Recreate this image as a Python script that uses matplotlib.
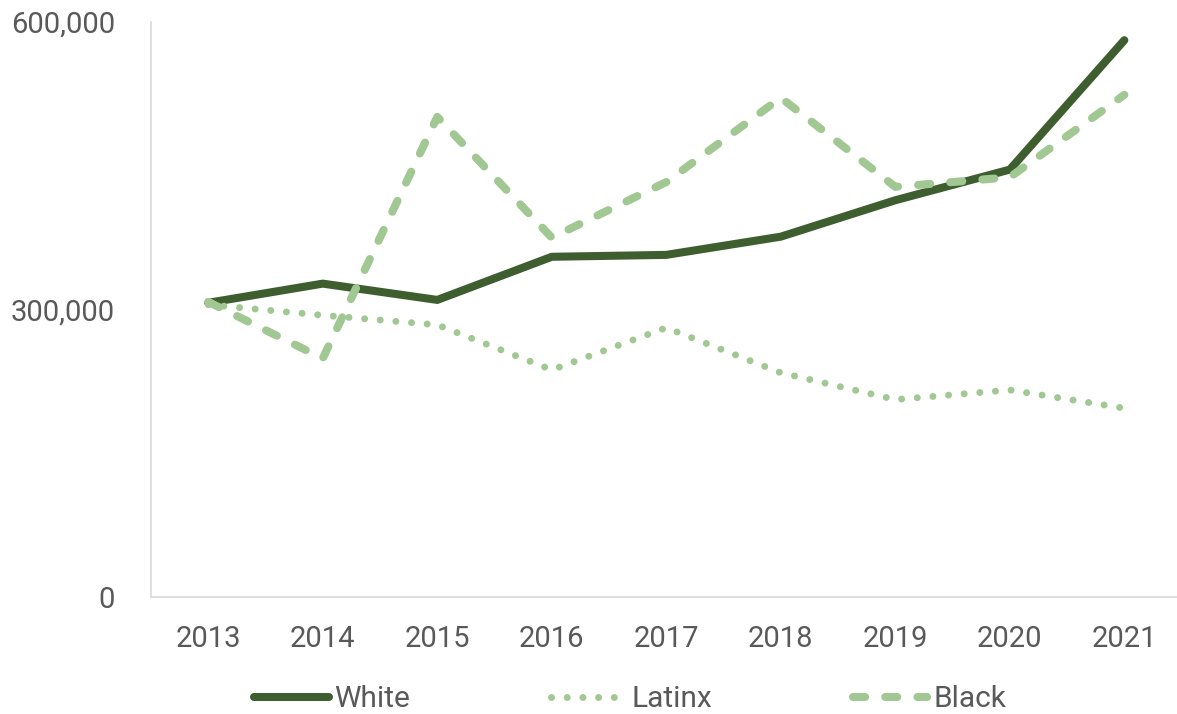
import matplotlib
matplotlib.use('Agg')
import matplotlib.pyplot as plt
from matplotlib.ticker import FuncFormatter

# values
years = ['2013', '2014', '2015', '2016', '2017', '2018', '2019', '2020', '2021']
white = [307000, 327000, 310000, 355000, 357000, 376000, 414000, 446000, 581000]
latinx = [305000, 294000, 284000, 237000, 281000, 234000, 206000, 216000, 197000]
black = [308000, 249000, 501000, 375000, 433000, 521000, 428000, 438000, 524000]

dark_green = '#3E5E30'
light_green = '#A1C793'
grey_text = '#595959'

plt.rcParams['font.family'] = ['Roboto', 'DejaVu Sans']

fig = plt.figure(figsize=(11.77, 7.14), dpi=100)
ax = fig.add_axes([151 / 1177, 117 / 714, 1026 / 1177, 575 / 714])

x = list(range(len(years)))
ax.plot(x, white, color=dark_green, lw=5.8, solid_capstyle='round',
        solid_joinstyle='round', label='White')
ax.plot(x, latinx, color=light_green, lw=5.0, linestyle=(0, (0.01, 2.25)),
        dash_capstyle='round', label='Latinx')
ax.plot(x, black, color=light_green, lw=5.8, linestyle=(0, (1.5, 2.5)),
        dash_capstyle='round', label='Black')

ax.set_xlim(-0.5, 8.46)
ax.set_ylim(0, 600000)
ax.set_xticks(x)
ax.set_xticklabels(years)
ax.set_yticks([0, 300000, 600000])
ax.yaxis.set_major_formatter(FuncFormatter(lambda v, p: f'{int(v):,}'))

for s in ['top', 'right']:
    ax.spines[s].set_visible(False)
for s in ['left', 'bottom']:
    ax.spines[s].set_color('#D9D9D9')
    ax.spines[s].set_linewidth(1.2)

ax.tick_params(axis='both', length=0, labelsize=21, labelcolor=grey_text)
ax.tick_params(axis='y', pad=26)
ax.tick_params(axis='x', pad=20)

leg = fig.legend(loc='center', bbox_to_anchor=(630 / 1177, 1 - 699 / 714),
                 ncol=3, frameon=False, fontsize=21.5, handlelength=2.5,
                 handletextpad=0.2, columnspacing=4.7)
for t in leg.get_texts():
    t.set_color(grey_text)

fig.savefig('out.png', dpi=100)
